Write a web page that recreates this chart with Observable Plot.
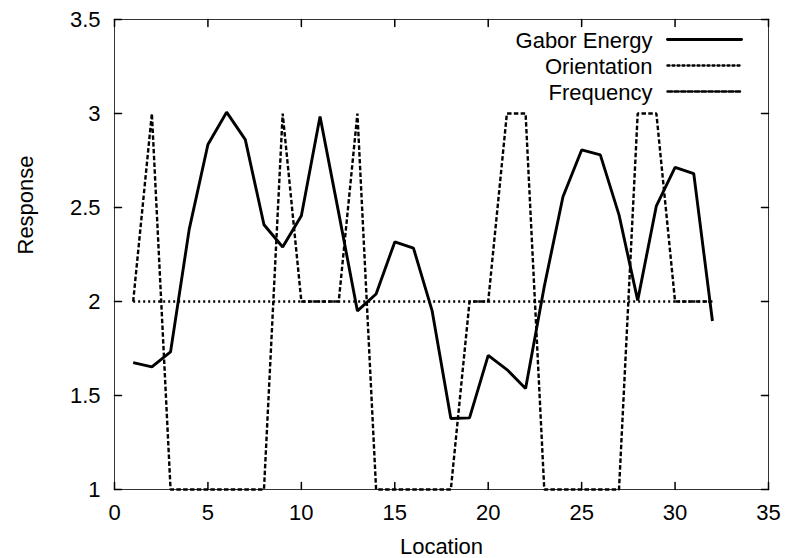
<!DOCTYPE html>
<html>
<head>
<meta charset="utf-8">
<script src="https://cdn.jsdelivr.net/npm/d3@7"></script>
<script src="https://cdn.jsdelivr.net/npm/@observablehq/plot@0.6"></script>
<style>
  html, body { margin: 0; padding: 0; background: #fff; }
  #chart svg { display: block; }
</style>
</head>
<body>
<div id="chart"></div>
<script>
// ---- data ----
const locations = [1,2,3,4,5,6,7,8,9,10,11,12,13,14,15,16,17,18,19,20,21,22,23,24,25,26,27,28,29,30,31,32];
const gaborEnergy = [1.675,1.652,1.732,2.385,2.835,3.007,2.861,2.408,2.29,2.456,2.984,2.47,1.95,2.04,2.317,2.284,1.95,1.378,1.381,1.713,1.638,1.537,2.08,2.557,2.806,2.78,2.461,2.006,2.509,2.714,2.68,1.896];
const orientation = [2,2,2,2,2,2,2,2,2,2,2,2,2,2,2,2,2,2,2,2,2,2,2,2,2,2,2,2,2,2,2,2];
const frequency = [2,3,1,1,1,1,1,1,3,2,2,2,3,1,1,1,1,1,2,2,3,3,1,1,1,1,1,3,3,2,2,2];
const xTicks = [0,5,10,15,20,25,30,35];
const yTicks = [1,1.5,2,2.5,3,3.5];
const seriesNames = ["Gabor Energy","Orientation","Frequency"];
const xLabel = "Location";
const yLabel = "Response";

// ---- build ----
const rows = locations.map((x, i) => ({x, gabor: gaborEnergy[i], orient: orientation[i], freq: frequency[i]}));
const styles = {
  "Gabor Energy": {strokeWidth: 2.9, strokeDasharray: null, key: "gabor"},
  "Orientation": {strokeWidth: 2.4, strokeDasharray: "2,3", key: "orient"},
  "Frequency": {strokeWidth: 2.4, strokeDasharray: "4.5,2.3", key: "freq"}
};
const tickShape = {draw(ctx, l) { ctx.moveTo(0, 0); ctx.lineTo(0, -l); }};
const font = "'Liberation Sans', Arial, Helvetica, sans-serif";
const fs = 22;

const seriesMarks = seriesNames.map(name => Plot.line(rows, {
  x: "x", y: styles[name].key, stroke: "black",
  strokeWidth: styles[name].strokeWidth,
  strokeDasharray: styles[name].strokeDasharray,
  strokeLinejoin: "miter", strokeLinecap: "butt", curve: "linear"
}));

const legendMarks = seriesNames.flatMap((name, i) => [
  Plot.text([name], {frameAnchor: "top-right", text: d => d, textAnchor: "end", lineAnchor: "bottom",
    dx: -116, dy: 28 + i * 26, fontSize: fs, fill: "black"}),
  Plot.vector([name], {frameAnchor: "top-right", length: 74, rotate: 90, anchor: "end",
    dx: -27, dy: 20 + i * 26, shape: tickShape, stroke: "black",
    strokeWidth: styles[name].strokeWidth, strokeDasharray: styles[name].strokeDasharray})
]);

const chart = Plot.plot({
  width: 788,
  height: 558,
  marginLeft: 114,
  marginRight: 20,
  marginTop: 19,
  marginBottom: 69,
  style: {fontFamily: font, fontSize: fs + "px", background: "white", color: "black", overflow: "visible"},
  x: {domain: [0, 35]},
  y: {domain: [1, 3.5]},
  marks: [
    Plot.frame({stroke: "#333", strokeWidth: 1}),
    Plot.axisX(xTicks, {tickSize: 0, tickPadding: 15, fontSize: fs, label: null, tickFormat: d => String(d)}),
    Plot.axisY(yTicks, {tickSize: 0, tickPadding: 14, fontSize: fs, label: null, tickFormat: d => String(d)}),
    Plot.vector(xTicks, {x: d => d, frameAnchor: "bottom", length: 7, rotate: 0, anchor: "start", shape: tickShape, stroke: "black"}),
    Plot.vector(xTicks, {x: d => d, frameAnchor: "top", length: 7, rotate: 180, anchor: "start", shape: tickShape, stroke: "black"}),
    Plot.vector(yTicks, {y: d => d, frameAnchor: "left", length: 7, rotate: 90, anchor: "start", shape: tickShape, stroke: "black"}),
    Plot.vector(yTicks, {y: d => d, frameAnchor: "right", length: 7, rotate: -90, anchor: "start", shape: tickShape, stroke: "black"}),
    ...seriesMarks,
    ...legendMarks,
    Plot.text([xLabel], {frameAnchor: "bottom", text: d => d, lineAnchor: "bottom", dy: 64, fontSize: fs, fill: "black"}),
    Plot.text([yLabel], {frameAnchor: "left", text: d => d, rotate: -90, lineAnchor: "bottom", dx: -82, fontSize: fs, fill: "black"})
  ]
});
document.getElementById("chart").appendChild(chart);
</script>
</body>
</html>
